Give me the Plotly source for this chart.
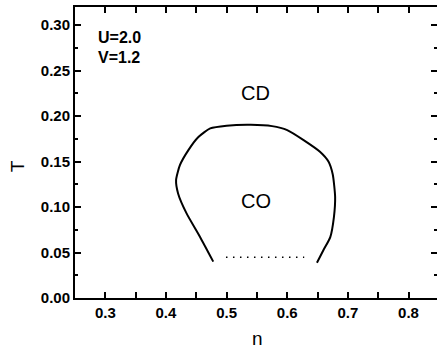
import plotly.graph_objects as go

# phase boundary (CO / CD)
boundary_n = [0.478, 0.456, 0.434, 0.420, 0.4167, 0.423, 0.437, 0.4535, 0.473, 0.500,
              0.540, 0.575, 0.600, 0.627, 0.654, 0.668, 0.675, 0.679, 0.677, 0.671,
              0.660, 0.649]
boundary_T = [0.040, 0.0674, 0.093, 0.115, 0.1297, 0.146, 0.1626, 0.177, 0.1865, 0.1895,
              0.1905, 0.189, 0.1846, 0.1736, 0.1608, 0.150, 0.136, 0.111, 0.089, 0.067,
              0.053, 0.0388]
# dotted segment
dotted_n = [0.499, 0.628]
dotted_T = [0.0447, 0.0447]

x_ticks = [0.3, 0.4, 0.5, 0.6, 0.7, 0.8]
x_ticktext = ["0.3", "0.4", "0.5", "0.6", "0.7", "0.8"]
y_ticks = [0.00, 0.05, 0.10, 0.15, 0.20, 0.25, 0.30]
y_ticktext = ["0.00", "0.05", "0.10", "0.15", "0.20", "0.25", "0.30"]

FONT = "Liberation Sans, Arial, sans-serif"

fig = go.Figure()
fig.add_trace(go.Scatter(x=boundary_n, y=boundary_T, mode="lines",
                         line=dict(color="black", width=2, shape="spline", smoothing=0.6),
                         showlegend=False, hoverinfo="skip"))
fig.add_trace(go.Scatter(x=dotted_n, y=dotted_T, mode="lines",
                         line=dict(color="black", width=1.5, dash="1.5px,5.5px"),
                         showlegend=False, hoverinfo="skip"))
fig.add_trace(go.Scatter(x=[], y=[], yaxis="y2", showlegend=False))

tickfont = dict(family=FONT, size=15, color="black", weight="bold")

fig.update_layout(
    width=437, height=349,
    margin=dict(l=75, r=0, t=7, b=51),
    plot_bgcolor="white", paper_bgcolor="white",
    xaxis=dict(range=[0.25, 0.847], tickvals=x_ticks, ticktext=x_ticktext,
               ticks="inside", ticklen=6, tickwidth=1.5, tickcolor="black",
               minor=dict(dtick=0.05, tick0=0, ticks="inside", ticklen=3, tickwidth=1.5,
                          tickcolor="black", showgrid=False),
               showline=True, linewidth=2, linecolor="black", mirror="allticks",
               showgrid=False, zeroline=False, tickfont=tickfont),
    yaxis=dict(range=[0, 0.32], tickvals=y_ticks, ticktext=y_ticktext,
               ticks="inside", ticklen=6, tickwidth=1.5, tickcolor="black",
               minor=dict(dtick=0.025, tick0=0, ticks="inside", ticklen=3, tickwidth=1.5,
                          tickcolor="black", showgrid=False),
               showline=True, linewidth=2, linecolor="black",
               showgrid=False, zeroline=False, tickfont=tickfont),
    yaxis2=dict(range=[0, 0.32], overlaying="y", side="right", tickvals=y_ticks,
                ticks="inside", ticklen=6, tickwidth=1.5, tickcolor="black",
                minor=dict(dtick=0.025, tick0=0, ticks="inside", ticklen=3, tickwidth=1.5,
                           tickcolor="black", showgrid=False),
                showline=False, showticklabels=False, showgrid=False, zeroline=False),
    annotations=[
        dict(x=0.2847, y=0.2863, xref="x", yref="y", text="U=2.0", showarrow=False,
             xanchor="left", yanchor="middle",
             font=dict(family=FONT, size=16, color="black", weight="bold")),
        dict(x=0.2847, y=0.2648, xref="x", yref="y", text="V=1.2", showarrow=False,
             xanchor="left", yanchor="middle",
             font=dict(family=FONT, size=16, color="black", weight="bold")),
        dict(x=0.548, y=0.2258, xref="x", yref="y", text="CD", showarrow=False,
             xanchor="center", yanchor="middle", font=dict(family=FONT, size=20, color="black")),
        dict(x=0.549, y=0.1068, xref="x", yref="y", text="CO", showarrow=False,
             xanchor="center", yanchor="middle", font=dict(family=FONT, size=20, color="black")),
        dict(x=-0.160, y=0.145, xref="paper", yref="y", text="T", showarrow=False,
             textangle=-90, xanchor="center", yanchor="middle",
             font=dict(family=FONT, size=19, color="black")),
        dict(x=0.5055, y=-0.1375, xref="paper", yref="paper", text="n", showarrow=False,
             xanchor="center", yanchor="middle",
             font=dict(family=FONT, size=19, color="black")),
    ],
)

fig.write_html("out.html", config={"displayModeBar": False},
               post_script="document.body.style.margin='0';document.body.style.overflow='hidden';")
